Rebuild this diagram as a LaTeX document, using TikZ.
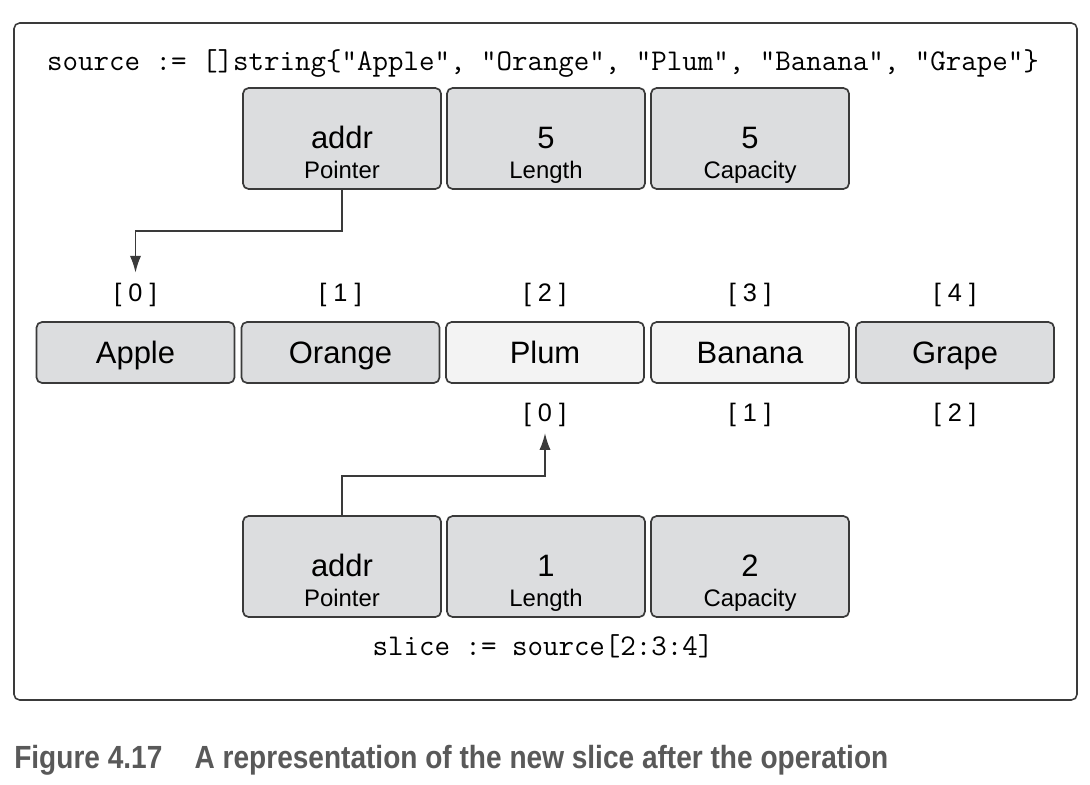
\documentclass[tikz,border=0pt]{standalone}
\usepackage{fontspec}
\setmainfont{Liberation Sans}
\usetikzlibrary{arrows.meta,positioning}

\definecolor{cellgray}{HTML}{DCDDDF}
\definecolor{celllight}{HTML}{F3F3F3}
\definecolor{linegray}{HTML}{3A3A3A}

\tikzset{
	cell/.style={draw=linegray, line width=1.2pt, rounded corners=4pt, fill=cellgray,
		minimum width=4.95cm, minimum height=2.525cm, inner sep=0pt},
	elem/.style={cell, minimum height=1.525cm, text height=15.75pt, text depth=0pt,
		font=\fontsize{22}{26}\selectfont},
	valtxt/.style={anchor=base, inner sep=0pt, font=\fontsize{22}{26}\selectfont},
	labtxt/.style={anchor=base, inner sep=0pt, font=\fontsize{17}{20}\selectfont},
	idx/.style={font=\fontsize{18}{20}\selectfont},
	code/.style={anchor=base, inner sep=0pt, font=\ttfamily\fontsize{21.4}{24}\selectfont},
	frame/.style={draw=linegray, line width=1.1pt, rounded corners=4pt},
	link/.style={draw=linegray, line width=1pt, -{Latex[length=4.2mm,width=2.8mm]}},
}

\begin{document}
\begin{tikzpicture}[x=0.025cm, y=-0.025cm]
	\useasboundingbox (0,0) rectangle (1090,784);
	\draw[frame] (14,23) rectangle (1077,700);

	\node[code] (srccode) at (543,70) {source := []string\{"Apple", "Orange", "Plum", "Banana", "Grape"\}};

	% header of source
	\foreach \v/\l/\x [count=\i] in {addr/Pointer/342, 5/Length/546, 5/Capacity/750} {
		\node[cell] (src\i) at (\x,138.5) {};
		\node[valtxt] (srcv\i) at (\x,148) {\v};
		\node[labtxt] (srcl\i) at (\x,178) {\l};
	}

	% backing array
	\foreach \name/\x/\col [count=\i from 0] in {Apple/135.5/cellgray, Orange/340.5/cellgray,
			Plum/545/celllight, Banana/750/celllight, Grape/955/cellgray} {
		\node[elem, fill=\col] (el\i) at (\x,352.5) {\name};
		\node[idx] (t\i) at (\x,295) {[ \i\ ]};
	}
	\foreach \x [count=\i from 0] in {545,750,955}
		\node[idx] (s\i) at (\x,415) {[ \i\ ]};

	% header of slice
	\foreach \v/\l/\x [count=\i] in {addr/Pointer/342, 1/Length/546, 2/Capacity/750} {
		\node[cell] (sl\i) at (\x,566.5) {};
		\node[valtxt] (slv\i) at (\x,576) {\v};
		\node[labtxt] (sll\i) at (\x,606) {\l};
	}

	\node[code] (slcode) at (543,655) {slice := source[2:3:4]};

	\draw[link, shorten >=4pt] (src1.south) -- (src1.south |- 0,231) -| (t0.north);
	\draw[link, shorten >=1pt] (sl1.north) -- (sl1.north |- 0,476) -| (s0.south);

	\node[anchor=base west, inner sep=0pt, text=black!65, font=\bfseries\fontsize{22.8}{26}\selectfont]
		(caption) at (14,768) {\scalebox{0.875}[1]{Figure 4.17\hspace{1.15em}A representation of the new slice after the operation}};
\end{tikzpicture}
\end{document}
